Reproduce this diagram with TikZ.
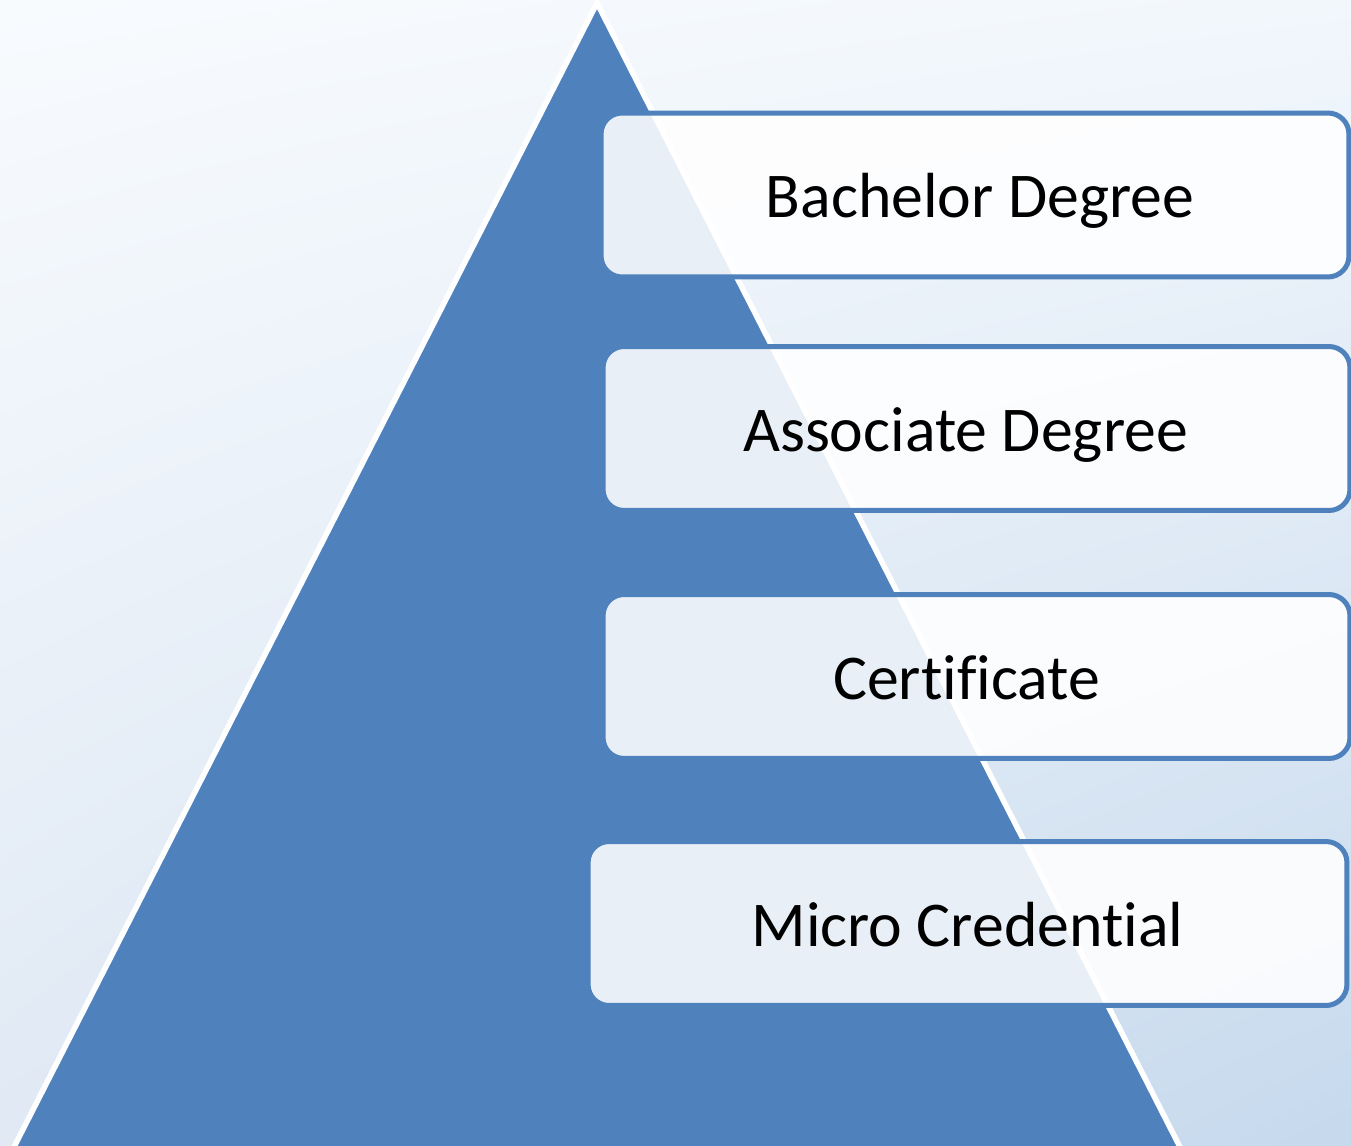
\documentclass[tikz,border=0pt]{standalone}
\usepackage{fontspec}
\setmainfont[RawFeature=-liga]{Carlito}
\usepackage{tikz}
\usetikzlibrary{calc,shadings}

\definecolor{pyrblue}{HTML}{4F81BD}
\definecolor{skytop}{HTML}{F8FBFE}
\definecolor{skyright}{HTML}{F2F7FC}
\definecolor{skyleft}{HTML}{E0E9F4}
\definecolor{skylow}{HTML}{C6D9ED}

\tikzset{
	levelbox/.style={draw=pyrblue, line width=0.1cm, fill=white, fill opacity=0.88, text opacity=1,
		rounded corners=0.42cm, minimum height=3.28cm, inner sep=0pt, outer sep=0pt,
		text height=0.92cm, text depth=0pt,
		font=\fontsize{36.3}{43}\selectfont, text=black}
}

\begin{document}
\begin{tikzpicture}[x=0.02cm, y=-0.02cm]
			%%%%% START %%%%%
			
			\useasboundingbox (0, 0) rectangle (1351, 1145);
			\clip (0, 0) rectangle (1351, 1145);
			
			% sky
			\shade[upper left=skytop, upper right=skyright, lower left=skyleft, lower right=skylow] (0, 0) rectangle (1351, 1145);
			
			% pyramid
			\draw[fill=pyrblue, draw=white, line width=0.11cm] (597, 3) -- (7.4, 1160) -- (1186.6, 1160) -- cycle;
			
			% levels
			\node[levelbox, minimum width=14.96cm] (bachelor) at (975, 195) {\hspace*{0.2cm}Bachelor Degree};
			\node[levelbox, minimum width=14.94cm] (associate) at (976.5, 428.5) {\hspace*{-0.44cm}Associate Degree};
			\node[levelbox, minimum width=14.94cm] (certificate) at (976.5, 676.5) {\hspace*{-0.4cm}Certificate};
			\node[levelbox, minimum width=15.18cm] (micro) at (967.5, 923.5) {Micro Credential};
			
			%%%%% END %%%%%
		\end{tikzpicture}
\end{document}
